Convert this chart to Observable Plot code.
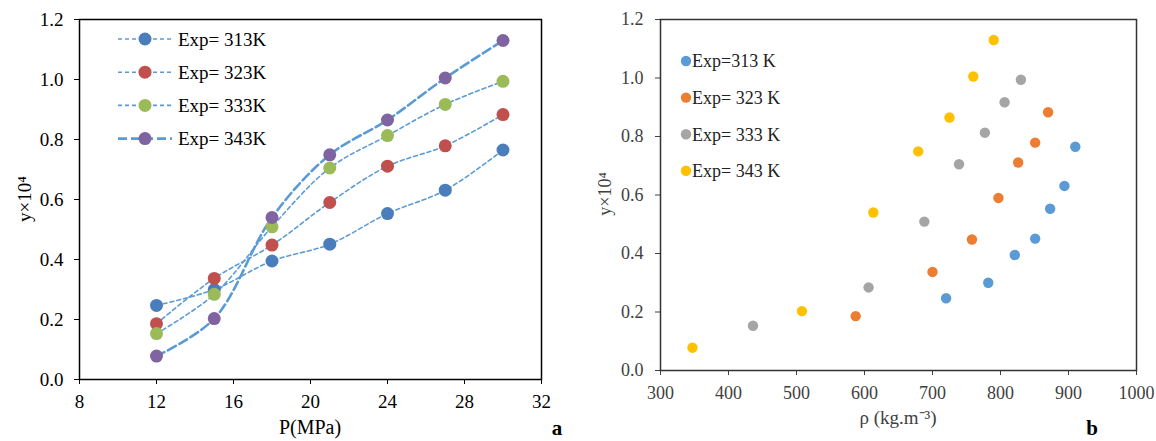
<!DOCTYPE html>
<html><head><meta charset="utf-8">
<script src="https://cdn.jsdelivr.net/npm/d3@7"></script>
<script src="https://cdn.jsdelivr.net/npm/@observablehq/plot@0.6"></script>
<style>
body{margin:0;background:#fff;}
#wrap{position:relative;width:1156px;height:441px;display:flex;background:#fff;}
#wrap svg{display:block;overflow:visible;}
</style>
</head><body><div id="wrap"></div>
<script>
// ---- data ----
const pressure = [12, 15, 18, 21, 24, 27, 30];
const temperatures = ["313K", "323K", "333K", "343K"];
const y313 = [0.247, 0.300, 0.395, 0.451, 0.553, 0.631, 0.765];
const y323 = [0.186, 0.337, 0.448, 0.590, 0.711, 0.779, 0.883];
const y333 = [0.153, 0.284, 0.509, 0.705, 0.813, 0.917, 0.994];
const y343 = [0.078, 0.203, 0.540, 0.749, 0.865, 1.005, 1.130];
const rho313 = [720, 782, 821, 851, 873, 894, 910];
const rho323 = [587, 700, 758, 797, 826, 851, 870];
const rho333 = [436, 606, 688, 739, 777, 806, 830];
const rho343 = [347, 508, 613, 679, 725, 760, 790];
const legendA = ["Exp= 313K", "Exp= 323K", "Exp= 333K", "Exp= 343K"];
const legendB = ["Exp=313 K", "Exp= 323 K", "Exp= 333 K", "Exp= 343 K"];
const pTicks = [8, 12, 16, 20, 24, 28, 32];
const rhoTicks = [300, 400, 500, 600, 700, 800, 900, 1000];
const yTicks = [0, 0.2, 0.4, 0.6, 0.8, 1.0, 1.2];

// ---- styles ----
const font = "Liberation Serif, Times New Roman, serif";
const lineColor = "#5B9BD5";
const colorsA = ["#4A7EBB", "#C0504D", "#9BBB59", "#8064A2"];
const colorsB = ["#5B9BD5", "#ED7D31", "#A5A5A5", "#FFC000"];
const dashes = ["4,3", "4,3", "4,3", "9,4"];
const widths = [1.6, 1.6, 1.6, 2.6];

const ys = [y313, y323, y333, y343];
const rhos = [rho313, rho323, rho333, rho343];
const table = [];
temperatures.forEach((T, i) => pressure.forEach((P, j) =>
  table.push({T, P, y: ys[i][j], rho: rhos[i][j]})));

const wrap = document.getElementById("wrap");

// ---- chart a ----
const left = Plot.plot({
  width: 578, height: 441,
  marginLeft: 79, marginRight: 37, marginTop: 19, marginBottom: 62,
  style: {fontFamily: font, fontSize: "19px", color: "#000", background: "#fff"},
  x: {domain: [8, 32], ticks: pTicks, tickSize: 5, tickPadding: 10, label: null},
  y: {domain: [0, 1.2], ticks: yTicks, tickFormat: d3.format(".1f"), tickSize: 5, tickPadding: 11, label: null},
  color: {domain: temperatures, range: colorsA},
  marks: [
    ...temperatures.map((T, i) => Plot.line(table.filter(d => d.T === T), {
      x: "P", y: "y", stroke: lineColor, strokeWidth: widths[i],
      strokeDasharray: dashes[i], curve: "catmull-rom"
    })),
    Plot.dot(table, {x: "P", y: "y", fill: "T", r: 6.5}),
    Plot.frame({stroke: "#000", strokeWidth: 1.5})
  ]
});
wrap.appendChild(left);
d3.select(left).selectAll("text").attr("font-family", font);
{
  const g = d3.select(left).append("g").attr("font-family", font).attr("text-anchor", "start");
  temperatures.forEach((T, i) => {
    const yy = 39 + i * 33.2;
    g.append("line").attr("x1", 118).attr("x2", 172).attr("y1", yy).attr("y2", yy)
      .attr("stroke", lineColor).attr("stroke-width", widths[i]).attr("stroke-dasharray", dashes[i]);
    g.append("circle").attr("cx", 145).attr("cy", yy).attr("r", 6.5).attr("fill", colorsA[i]);
    g.append("text").attr("x", 178).attr("y", yy).attr("dy", "0.35em").attr("text-anchor", "start")
      .attr("font-size", 19).attr("fill", "#000").text(legendA[i]);
  });
  g.append("text").attr("x", 310).attr("y", 427).attr("dy", "0.35em").attr("text-anchor", "middle")
    .attr("font-size", 20).attr("fill", "#000").text("P(MPa)");
  g.append("text").attr("transform", "translate(24,199) rotate(-90)").attr("dy", "0.35em")
    .attr("text-anchor", "middle").attr("font-size", 19).attr("fill", "#000").text("y×10⁴");
  g.append("text").attr("x", 557).attr("y", 428).attr("dy", "0.35em").attr("text-anchor", "middle")
    .attr("font-size", 21).attr("font-weight", "bold").attr("fill", "#000").text("a");
}

// ---- chart b ----
const right = Plot.plot({
  width: 578, height: 441,
  marginLeft: 82, marginRight: 20, marginTop: 19, marginBottom: 71,
  style: {fontFamily: font, fontSize: "18px", color: "#404040", background: "#fff"},
  x: {domain: [300, 1000], ticks: rhoTicks, tickFormat: d3.format("d"), tickSize: 5, tickPadding: 11, label: null},
  y: {domain: [0, 1.2], ticks: yTicks, tickFormat: d3.format(".1f"), tickSize: 5, tickPadding: 12, label: null},
  color: {domain: temperatures, range: colorsB},
  marks: [
    Plot.dot(table, {x: "rho", y: "y", fill: "T", r: 5.2}),
    Plot.frame({stroke: "#333", strokeWidth: 1.5})
  ]
});
wrap.appendChild(right);
d3.select(right).selectAll("text").attr("font-family", font);
{
  const g = d3.select(right).append("g").attr("font-family", font).attr("text-anchor", "start");
  temperatures.forEach((T, i) => {
    const yy = 61 + i * 36.6;
    g.append("circle").attr("cx", 686 - 578).attr("cy", yy).attr("r", 5.2).attr("fill", colorsB[i]);
    g.append("text").attr("x", 692 - 578).attr("y", yy).attr("dy", "0.35em").attr("text-anchor", "start")
      .attr("font-size", 18).attr("fill", "#222").text(legendB[i]);
  });
  g.append("text").attr("x", 320).attr("y", 417).attr("dy", "0.35em").attr("text-anchor", "middle")
    .attr("font-size", 19).attr("fill", "#404040").text("ρ (kg.m⁻³)");
  g.append("text").attr("transform", "translate(27,194) rotate(-90)").attr("dy", "0.35em")
    .attr("text-anchor", "middle").attr("font-size", 18).attr("fill", "#404040").text("y×10⁴");
  g.append("text").attr("x", 514).attr("y", 428).attr("dy", "0.35em").attr("text-anchor", "middle")
    .attr("font-size", 21).attr("font-weight", "bold").attr("fill", "#000").text("b");
}
</script>
</body></html>
